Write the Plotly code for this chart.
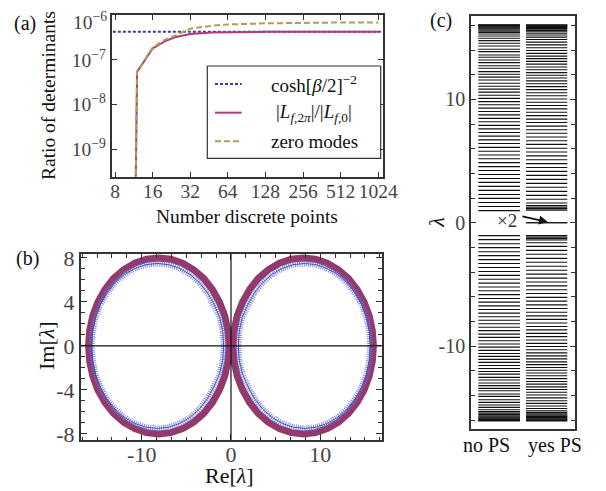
import plotly.graph_objects as go

# ---------------- data ----------------
# (a) ratio of determinants vs number of discrete points
N_cosh = [7, 1100]
cosh_vals = [4.25e-7, 4.25e-7]
N_pts = [11, 12, 16, 20, 24, 32, 48, 64, 128, 256, 512, 1024]
ratio_L = [1e-16, 5.4e-8, 1.8e-7, 2.6e-7, 3.2e-7, 3.8e-7, 4.1e-7, 4.18e-7, 4.23e-7, 4.25e-7, 4.25e-7, 4.25e-7]
zero_modes = [1e-16, 5.5e-8, 1.9e-7, 2.8e-7, 3.45e-7, 5.0e-7, 5.8e-7, 6.2e-7, 6.55e-7, 6.75e-7, 6.85e-7, 6.87e-7]
N_ticks = [8, 16, 32, 64, 128, 256, 512, 1024]
N_ticklabels = ["8", "16", "32", "64", "128", "256", "512", "1024"]
det_ticks = [1e-9, 1e-8, 1e-7, 1e-6]
det_ticklabels = ["10<sup>−9</sup>", "10<sup>−8</sup>", "10<sup>−7</sup>", "10<sup>−6</sup>"]

# (b) complex spectra (purple: one operator, blue: the other)
purple_right_re = [15.95, 15.83, 15.48, 14.90, 14.11, 13.15, 12.03, 10.78, 9.46, 8.10, 6.74, 5.42, 4.18, 3.05, 2.09, 1.30, 0.70, 0.35, 0.22,
                   0.35, 0.70, 1.30, 2.09, 3.05, 4.18, 5.42, 6.74, 8.10, 9.46, 10.78, 12.03, 13.15, 14.11, 14.90, 15.48, 15.83, 15.95]
purple_right_im = [0.00, 1.39, 2.74, 4.00, 5.14, 6.13, 6.93, 7.52, 7.88, 8.00, 7.88, 7.52, 6.93, 6.13, 5.14, 4.00, 2.74, 1.39, 0.00,
                   -1.39, -2.74, -4.00, -5.14, -6.13, -6.93, -7.52, -7.88, -8.00, -7.88, -7.52, -6.93, -6.13, -5.14, -4.00, -2.74, -1.39, 0.00]
purple_left_re = [-15.95, -15.83, -15.48, -14.90, -14.11, -13.15, -12.03, -10.78, -9.46, -8.10, -6.74, -5.42, -4.18, -3.05, -2.09, -1.30, -0.70, -0.35, -0.22,
                  -0.35, -0.70, -1.30, -2.09, -3.05, -4.18, -5.42, -6.74, -8.10, -9.46, -10.78, -12.03, -13.15, -14.11, -14.90, -15.48, -15.83, -15.95]
purple_left_im = [0.00, 1.39, 2.74, 4.00, 5.14, 6.13, 6.93, 7.52, 7.88, 8.00, 7.88, 7.52, 6.93, 6.13, 5.14, 4.00, 2.74, 1.39, 0.00,
                  -1.39, -2.74, -4.00, -5.14, -6.13, -6.93, -7.52, -7.88, -8.00, -7.88, -7.52, -6.93, -6.13, -5.14, -4.00, -2.74, -1.39, 0.00]
blue_right_re = [15.60, 15.49, 15.16, 14.62, 13.88, 12.97, 11.93, 10.76, 9.53, 8.25, 6.97, 5.74, 4.58, 3.53, 2.62, 1.88, 1.25, 0.92, 0.82,
                 0.92, 1.30, 1.95, 2.66, 3.56, 4.60, 5.76, 6.98, 8.25, 9.53, 10.76, 11.93, 12.97, 13.88, 14.62, 15.16, 15.49, 15.60]
blue_right_im = [0.00, 1.30, 2.57, 3.75, 4.82, 5.75, 6.50, 7.05, 7.39, 7.50, 7.39, 7.05, 6.50, 5.75, 4.82, 3.75, 2.57, 1.30, 0.00,
                 -1.30, -2.57, -3.75, -4.82, -5.75, -6.50, -7.05, -7.39, -7.50, -7.39, -7.05, -6.50, -5.75, -4.82, -3.75, -2.57, -1.30, 0.00]
blue_left_re = [-15.60, -15.49, -15.16, -14.62, -13.88, -12.97, -11.93, -10.76, -9.53, -8.25, -6.97, -5.74, -4.58, -3.53, -2.62, -1.88, -1.25, -0.92, -0.82,
                -0.92, -1.30, -1.95, -2.66, -3.56, -4.60, -5.76, -6.98, -8.25, -9.53, -10.76, -11.93, -12.97, -13.88, -14.62, -15.16, -15.49, -15.60]
blue_left_im = [0.00, 1.30, 2.57, 3.75, 4.82, 5.75, 6.50, 7.05, 7.39, 7.50, 7.39, 7.05, 6.50, 5.75, 4.82, 3.75, 2.57, 1.30, 0.00,
                -1.30, -2.57, -3.75, -4.82, -5.75, -6.50, -7.05, -7.39, -7.50, -7.39, -7.05, -6.50, -5.75, -4.82, -3.75, -2.57, -1.30, 0.00]
re_ticks = [-10, 0, 10]
re_ticklabels = ["-10", "0", "10"]
im_ticks = [-8, -4, 0, 4, 8]
im_ticklabels = ["-8", "-4", "0", "4", "8"]

# (c) real spectra
no_ps_eigs = [0.98, 1.31, 1.64, 1.97, 2.29, 2.62, 2.95, 3.27, 3.59, 3.91, 4.23, 4.55, 4.87, 5.18, 5.49, 5.80, 6.11, 6.42, 6.72, 7.02,
              7.31, 7.61, 7.89, 8.18, 8.46, 8.74, 9.02, 9.29, 9.56, 9.82, 10.08, 10.34, 10.59, 10.83, 11.07, 11.31, 11.57, 11.80,
              12.04, 12.25, 12.52, 12.73, 12.98, 13.19, 13.41, 13.60, 13.87, 14.06, 14.33, 14.55, 14.76, 14.95, 15.14,
              15.30, 15.42, 15.53, 15.63, 15.72, 15.80, 15.87, 15.93, 15.98, 16.02, 16.05,
              -1.05, -1.37, -1.70, -2.02, -2.35, -2.67, -2.99, -3.31, -3.63, -3.95, -4.27, -4.59, -4.90, -5.21, -5.52, -5.83, -6.14, -6.44,
              -6.74, -7.04, -7.33, -7.62, -7.91, -8.19, -8.47, -8.75, -9.03, -9.30, -9.57, -9.83, -10.09, -10.35, -10.60, -10.84, -11.08,
              -11.32, -11.58, -11.82, -12.06, -12.28, -12.54, -12.75, -13.00, -13.21, -13.43, -13.63, -13.89, -14.08, -14.35, -14.57,
              -14.78, -14.97, -15.16, -15.32, -15.44, -15.55, -15.65, -15.74, -15.82, -15.89, -15.95, -16.00, -16.04, -16.08]
yes_ps_eigs = [0.0, 0.0, 1.02, 1.14, 1.26, 1.40, 1.60, 1.90, 2.22, 2.54, 2.87, 3.19, 3.51, 3.84, 4.16, 4.48, 4.79, 5.11, 5.42, 5.73,
               6.04, 6.35, 6.65, 6.95, 7.25, 7.54, 7.83, 8.12, 8.40, 8.68, 8.96, 9.23, 9.50, 9.77, 10.03, 10.29, 10.54, 10.79, 11.03,
               11.27, 11.50, 11.73, 11.95, 12.17, 12.40, 12.63, 12.86, 13.08, 13.30, 13.51, 13.73, 13.96, 14.19, 14.42, 14.64, 14.85,
               15.05, 15.22, 15.36, 15.48, 15.58, 15.68, 15.76, 15.84, 15.90, 15.96, 16.01, 16.05,
               -1.05, -1.17, -1.29, -1.40, -1.62, -1.92, -2.24, -2.56, -2.89, -3.21, -3.53, -3.85, -4.17, -4.49, -4.81, -5.12, -5.43,
               -5.74, -6.05, -6.36, -6.66, -6.96, -7.26, -7.55, -7.84, -8.13, -8.41, -8.69, -8.97, -9.24, -9.51, -9.78, -10.04, -10.30,
               -10.55, -10.80, -11.04, -11.28, -11.51, -11.74, -11.96, -12.18, -12.41, -12.64, -12.87, -13.09, -13.31, -13.52, -13.74,
               -13.97, -14.20, -14.43, -14.65, -14.86, -15.06, -15.24, -15.38, -15.50, -15.60, -15.70, -15.78, -15.86, -15.92, -15.98,
               -16.03, -16.08]
lam_ticks = [-10, 0, 10]
lam_ticklabels = ["-10", "0", "10"]
columns = ["no PS", "yes PS"]

# ---------------- figure ----------------
# The page body adds an 8 px margin, so the figure is drawn 8 px smaller and
# reference pixel positions are shifted by that margin.
OFF = 8
W, H = 606 - OFF, 491 - OFF
SERIF = "Liberation Serif"
FRAME = "#333333"
TICKC = "#444444"

def px(x):
    return (x - OFF) / W

def py(y):
    return 1 - (y - OFF) / H

C_BLUE = "#3b3ba6"
C_PURPLE = "#b03c7c"
C_OLIVE = "#b09f4e"
C_PURPLE_B = "#933a6c"

fig = go.Figure()

# (a)
fig.add_trace(go.Scatter(x=N_cosh, y=cosh_vals, mode="lines", xaxis="x", yaxis="y",
                         line=dict(color=C_BLUE, width=2, dash="3px,2px"), showlegend=False))
fig.add_trace(go.Scatter(x=N_pts, y=ratio_L, mode="lines", xaxis="x", yaxis="y",
                         line=dict(color=C_PURPLE, width=2), showlegend=False))
fig.add_trace(go.Scatter(x=N_pts, y=zero_modes, mode="lines", xaxis="x", yaxis="y",
                         line=dict(color=C_OLIVE, width=2, dash="6px,3px"), showlegend=False))

# (b)
for xs, ys in [(purple_left_re, purple_left_im), (purple_right_re, purple_right_im)]:
    fig.add_trace(go.Scatter(x=xs, y=ys, mode="lines", xaxis="x2", yaxis="y2",
                             line=dict(color=C_PURPLE_B, width=7), showlegend=False))
for xs, ys in [(blue_left_re, blue_left_im), (blue_right_re, blue_right_im)]:
    fig.add_trace(go.Scatter(x=xs, y=ys, mode="lines", xaxis="x2", yaxis="y2",
                             line=dict(color="rgba(105,115,218,0.85)", width=6, dash="1px,1.2px"), showlegend=False))
    fig.add_trace(go.Scatter(x=xs, y=ys, mode="lines", xaxis="x2", yaxis="y2",
                             line=dict(color="#4a52b8", width=1), showlegend=False))

# (c)
col_spans = {"no PS": (0.07, 0.471), "yes PS": (0.529, 0.926)}
for name, eigs in [("no PS", no_ps_eigs), ("yes PS", yes_ps_eigs)]:
    x0, x1 = col_spans[name]
    xs, ys = [], []
    for v in eigs:
        xs += [x0, x1, None]
        ys += [v, v, None]
    fig.add_trace(go.Scatter(x=xs, y=ys, mode="lines", xaxis="x3", yaxis="y3",
                             line=dict(color="#111111", width=1.1), showlegend=False))

tickfont_a = dict(family=SERIF, size=19.5, color=TICKC)
tickfont_b = dict(family=SERIF, size=22, color=TICKC)
tickfont_c = dict(family=SERIF, size=20, color=TICKC)

frame = dict(showline=True, linewidth=2, linecolor=FRAME, mirror="allticks", automargin=False,
             showgrid=False, zeroline=False, ticks="inside", tickcolor=FRAME, ticklabeloverflow="allow")

# the top label of (a) sits at the page edge: it is written as a separate text below
det_ticklabels_axis = det_ticklabels[:-1] + [""]

fig.update_layout(
    width=W, height=H, margin=dict(l=0, r=0, t=0, b=0, autoexpand=False),
    paper_bgcolor="white", plot_bgcolor="white",
    xaxis=dict(domain=[px(111.7), px(382.7)], anchor="y", type="log", range=[0.876, 3.046],
               tickmode="array", tickvals=N_ticks, ticktext=N_ticklabels, tickangle=0,
               ticklen=5, tickwidth=1.2, tickfont=tickfont_a, ticklabelstandoff=-4, **frame),
    yaxis=dict(domain=[py(176.7), py(15)], anchor="x", type="log", range=[-9.61, -5.997],
               tickmode="array", tickvals=det_ticks, ticktext=det_ticklabels_axis,
               ticklen=5, tickwidth=1.2, tickfont=tickfont_a, **frame),
    xaxis2=dict(domain=[px(81), px(381.7)], anchor="y2", range=[-16.8, 16.88],
                tickmode="array", tickvals=re_ticks, ticktext=re_ticklabels, tickangle=0,
                ticklen=6, tickwidth=1.2, tickfont=tickfont_b, ticklabelstandoff=-6,
                minor=dict(tickmode="linear", tick0=0, dtick=10 / 6, ticklen=3.5, ticks="inside", tickcolor=FRAME),
                **frame),
    yaxis2=dict(domain=[py(440), py(254)], anchor="x2", range=[-8.55, 8.36],
                tickmode="array", tickvals=im_ticks, ticktext=im_ticklabels,
                ticklen=6, tickwidth=1.2, tickfont=tickfont_b,
                minor=dict(tickmode="linear", tick0=0, dtick=1, ticklen=3.5, ticks="inside", tickcolor=FRAME),
                **frame),
    xaxis3=dict(domain=[px(471), px(575)], anchor="y3", range=[0, 1], automargin=False,
                showticklabels=False, showline=True, linewidth=1.6, linecolor=FRAME, mirror=True,
                showgrid=False, zeroline=False, ticks=""),
    yaxis3=dict(domain=[py(429.3), py(16)], anchor="x3", range=[-16.75, 16.76], automargin=False,
                tickmode="array", tickvals=lam_ticks, ticktext=lam_ticklabels, ticklabeloverflow="allow",
                showline=True, linewidth=1.6, linecolor=FRAME, mirror="allticks",
                showgrid=False, zeroline=False, ticks="inside", tickcolor=FRAME,
                ticklen=5, tickwidth=1.2, tickfont=tickfont_c,
                minor=dict(tickmode="linear", tick0=0, dtick=2, ticklen=4, ticks="inside", tickcolor=FRAME)),
)

shapes = []
# axis cross lines in (b)
shapes.append(dict(type="line", xref="x2 domain", yref="y2", x0=0, x1=1, y0=0, y1=0,
                   line=dict(color="#111111", width=1.2), layer="above"))
shapes.append(dict(type="line", xref="x2", yref="y2 domain", x0=0, x1=0, y0=0, y1=1,
                   line=dict(color="#111111", width=1.2), layer="above"))
# legend box for (a)
shapes.append(dict(type="rect", xref="paper", yref="paper", x0=px(207.3), x1=px(380.7),
                   y0=py(158.3), y1=py(66), line=dict(color=FRAME, width=1.2), fillcolor="white", layer="above"))
legend_rows = [(84, C_BLUE, "3px,2px"), (112.7, C_PURPLE, "solid"), (141.3, C_OLIVE, "6px,3px")]
for yy, col, dash in legend_rows:
    shapes.append(dict(type="line", xref="paper", yref="paper", x0=px(215), x1=px(241.7),
                       y0=py(yy), y1=py(yy), line=dict(color=col, width=2, dash=dash), layer="above"))
fig.update_layout(shapes=shapes)

ann = []
def text(x, y, s, size, angle=0, xanchor="center", color="#111111"):
    ann.append(dict(xref="paper", yref="paper", x=px(x), y=py(y), text=s, showarrow=False,
                    xanchor=xanchor, yanchor="middle", textangle=angle,
                    font=dict(family=SERIF, size=size, color=color)))

legend_texts = ["cosh[<i>β</i>/2]<sup>−2</sup>",
                "|<i>L</i><sub><i>f</i>,2<i>π</i></sub>|/|<i>L</i><sub><i>f</i>,0</sub>|",
                "zero modes"]
for (yy, _, _), s in zip(legend_rows, legend_texts):
    text(314, yy, s, 19)

text(108.5, 21, det_ticklabels[-1], 19.5, xanchor="right", color=TICKC)
text(25, 24, "(a)", 20)
text(27, 258, "(b)", 20)
text(441, 20, "(c)", 20)
text(48, 96, "Ratio of determinants", 19.5, angle=-90)
text(246.5, 216.5, "Number discrete points", 19.5)
text(46, 346, "Im[<i>λ</i>]", 22, angle=-90)
text(230, 475, "Re[<i>λ</i>]", 22)
text(437, 222.7, "<i>λ</i>", 22, angle=-90)
text(486.6, 445, columns[0], 20)
text(555, 445, columns[1], 20)
text(507, 220, "×2", 19, color="#333333")
ann.append(dict(xref="x3", yref="y3", x=0.74, y=0.05, axref="x3", ayref="y3", ax=0.48, ay=0.55,
                text="", showarrow=True, arrowhead=2, arrowsize=1, arrowwidth=1.8, arrowcolor="#111111"))
fig.update_layout(annotations=ann)

fig.write_html("out.html")
